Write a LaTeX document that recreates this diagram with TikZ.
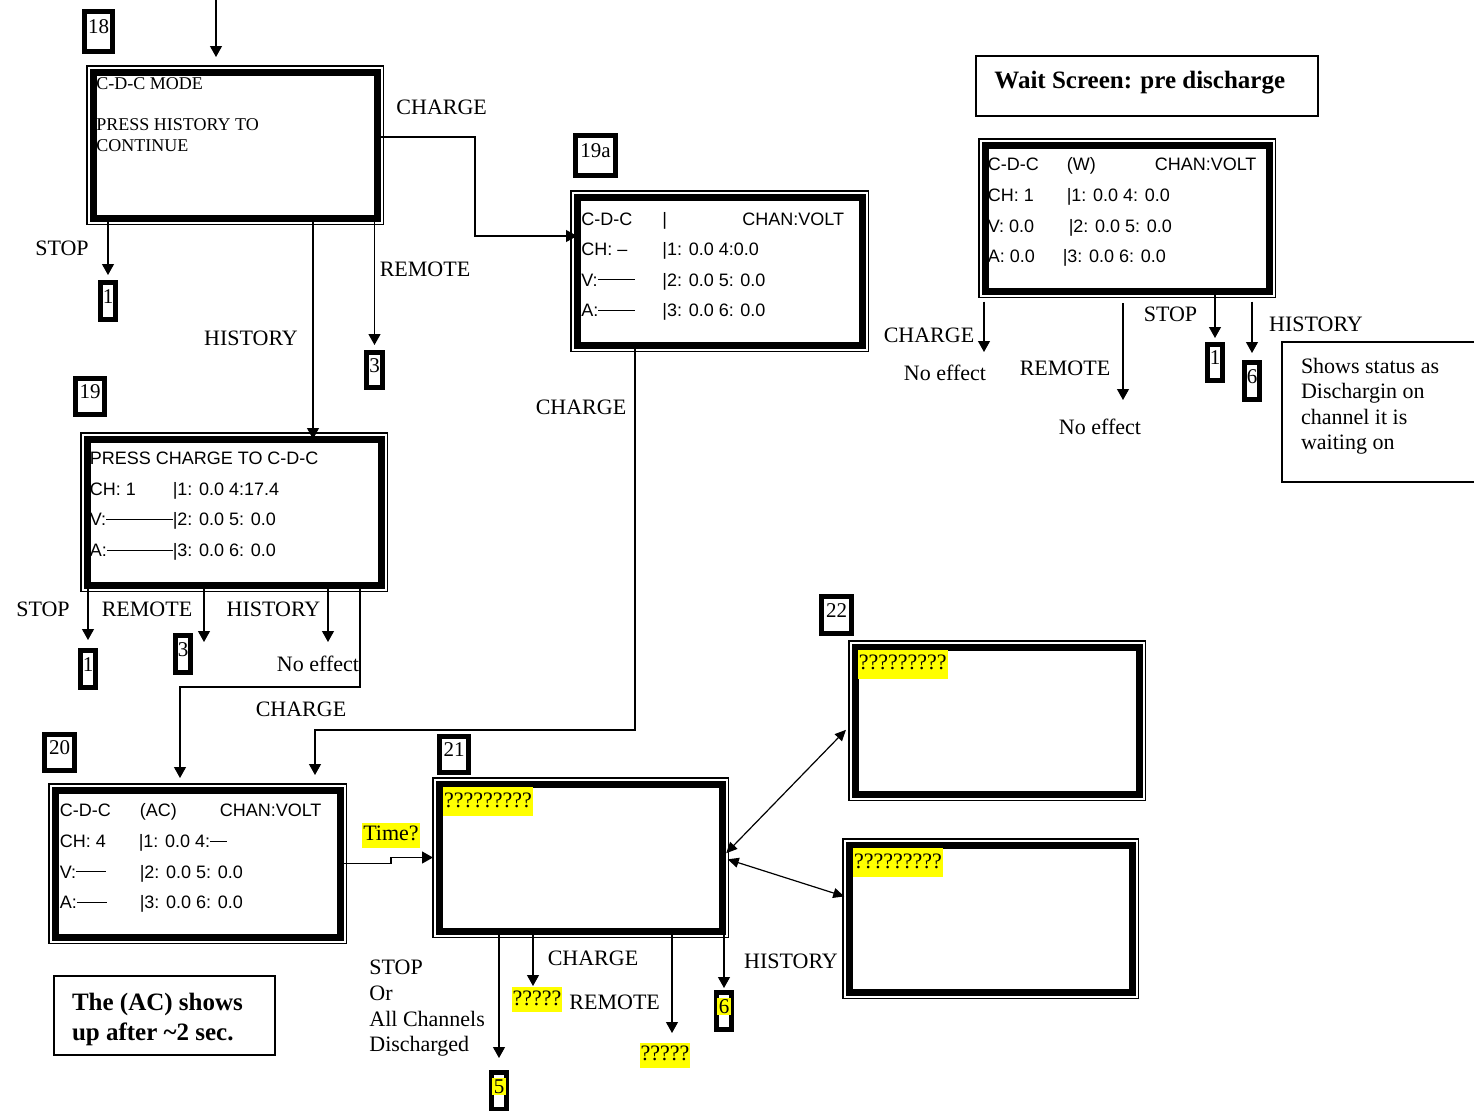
\documentclass[tikz,border=0pt]{standalone}
\usepackage{fontspec}
\setmainfont{Liberation Serif}
\newfontfamily\lcdfamily{Liberation Sans}
\usepackage{tikz}
\usetikzlibrary{arrows.meta, positioning, calc}
\definecolor{hlyellow}{RGB}{255,255,0}
\newdimen\pxu \pxu=0.5pt
\newcommand{\lblfont}{\fontsize{11}{12.8}\selectfont}
\newcommand{\tagfont}{\fontsize{10.5}{12}\selectfont}
\newcommand{\notefont}{\bfseries\fontsize{12.5}{15}\selectfont}
\newcommand{\lcdcol}[2]{\makebox[#1\pxu][l]{#2}}
\newcommand{\lcdrule}[1]{\rule[2.9pt]{#1\pxu}{0.5pt}}
\newcommand{\lcddash}{\leaders\hrule height 3.4pt depth -2.9pt\hfill}
\newcommand{\hlbox}[1]{{\setlength{\fboxsep}{0.8pt}\colorbox{hlyellow}{#1}}}
\tikzset{
  lcd/.style 2 args={rectangle,anchor=north west,inner sep=0pt,outer sep=0pt,
    minimum width=#1*\pxu,minimum height=#2*\pxu,
    preaction={draw=black,line width=6.8pt},
    preaction={draw=white,line width=5.5pt},
    fill=white,draw=black,line width=3.5pt},
  lcdtext/.style={inner sep=0pt,align=left,font=\lcdfamily\fontsize{9}{15.3}\selectfont},
  modetext/.style={inner sep=0pt,align=left,font=\fontsize{9}{10.7}\selectfont},
  tag/.style 2 args={rectangle,draw=black,line width=2.4pt,inner sep=0pt,outer sep=0pt,
    minimum width=#1*\pxu-2.4pt,minimum height=#2*\pxu-2.4pt,
    text height=7.3pt,text depth=5pt,font=\tagfont},
  plainbox/.style 2 args={rectangle,anchor=north west,draw=black,line width=0.7pt,
    inner sep=0pt,outer sep=0pt,minimum width=#1*\pxu,minimum height=#2*\pxu},
  lbl/.style={inner sep=0pt,font=\lblfont},
  blocktext/.style={inner sep=0pt,align=left,font=\lblfont},
  hl/.style={fill=hlyellow,inner xsep=0.5pt,inner ysep=1pt,text height=8pt,text depth=2.5pt,font=\lblfont},
  qbox/.style={hl,inner ysep=2pt},
  arr/.style={-{Triangle[length=5.5pt,width=6pt]},line width=0.6pt},
  totag/.style={shorten >=3.7pt},
  dblarr/.style={{Triangle[length=5.5pt,width=5pt]}-{Triangle[length=5.5pt,width=5pt]},line width=0.6pt}
}

\begin{document}
\begin{tikzpicture}[x=0.5pt,y=-0.5pt]
  \useasboundingbox (0,0) rectangle (1474,1110);
  \clip (0,0) rectangle (1474,1110);

  %% Screens
  \node[lcd={284}{146}] (s18) at (93,72) {};
  \node[lcd={285}{148}] (s19a) at (577,197) {};
  \node[lcd={294}{146}] (s19) at (87,439) {};
  \node[lcd={285}{147}] (s20) at (55,790) {};
  \node[lcd={283}{147}] (s21) at (439,784) {};
  \node[lcd={284}{147}] (s22a) at (855,647) {};
  \node[lcd={283}{147}] (s22b) at (849,845) {};
  \node[lcd={284}{146}] (sw) at (985,145) {};

  %% Screen contents
  \node[modetext,below right=2.7pt and 1.5pt of s18.north west] (s18t)
    {C-D-C MODE\\[9.5pt]PRESS HISTORY TO\\CONTINUE};
  \node[lcdtext,below right=7.3pt and 2pt of s19a.north west] (s19at)
    {\lcdcol{81}{C-D-C}\lcdcol{80}{|}CHAN:VOLT\\
     \lcdcol{81}{CH: –}|1: 0.0 4:0.0\\
     \lcdcol{81}{V:\lcdrule{37}}|2: 0.0 5: 0.0\\
     \lcdcol{81}{A:\lcdrule{37}}|3: 0.0 6: 0.0};
  \node[lcdtext,below right=6.3pt and 1.2pt of s19.north west] (s19t)
    {PRESS CHARGE TO C-D-C\\
     \lcdcol{83}{CH: 1}|1: 0.0 4:17.4\\
     \lcdcol{83}{V:\lcddash}|2: 0.0 5: 0.0\\
     \lcdcol{83}{A:\lcddash}|3: 0.0 6: 0.0};
  \node[lcdtext,below right=6.7pt and 2.2pt of s20.north west] (s20t)
    {\lcdcol{80}{C-D-C}\lcdcol{80}{(AC)}CHAN:VOLT\\
     \lcdcol{79}{CH: 4}|1: 0.0 4:\lcdrule{17}\\
     \lcdcol{80}{V:\lcdrule{30}}|2: 0.0 5: 0.0\\
     \lcdcol{80}{A:\lcdrule{30}}|3: 0.0 6: 0.0};
  \node[lcdtext,below right=6.2pt and 1.2pt of sw.north west] (swt)
    {\lcdcol{79}{C-D-C}\lcdcol{88}{(W)}CHAN:VOLT\\
     \lcdcol{79}{CH: 1}|1: 0.0 4: 0.0\\
     \lcdcol{81}{V: 0.0}|2: 0.0 5: 0.0\\
     \lcdcol{75}{A: 0.0}|3: 0.0 6: 0.0};
  \node[qbox,below right=1.3pt and 1.8pt of s21.north west] (q21) {?????????};
  \node[qbox,below right=1.1pt and 1.2pt of s22a.north west] (q22a) {?????????};
  \node[qbox,below right=1.3pt and 1.8pt of s22b.north west] (q22b) {?????????};

  %% Screen numbers and targets
  \node[tag={33}{45}] (t18) at (98.5,31.5) {18};
  \node[tag={20}{42}] (t18s) at (108,301) {1};
  \node[tag={21}{40}] (t18r) at (374.5,370) {3};
  \node[tag={45}{45}] (t19a) at (595.5,155.5) {19a};
  \node[tag={34}{41}] (t19) at (90,396.5) {19};
  \node[tag={20}{42}] (t19s) at (88,669) {1};
  \node[tag={20}{42}] (t19r) at (183,654) {3};
  \node[tag={35}{41}] (t20) at (59.5,752.5) {20};
  \node[tag={34}{41}] (t21) at (454,754.5) {21};
  \node[tag={35}{42}] (t22) at (836.5,615) {22};
  \node[tag={20}{42}] (t5) at (499,1091) {\hlbox{5}};
  \node[tag={20}{42}] (t6) at (724,1011) {\hlbox{6}};
  \node[tag={20}{41}] (tw1) at (1215,362.5) {1};
  \node[tag={20}{42}] (tw6) at (1252,381) {6};

  %% Notes
  \node[plainbox={342}{60}] (title) at (976,56) {};
  \node[inner sep=0pt,font=\notefont,below right=7.5pt and 9pt of title.north west] (titlet)
    {Wait Screen: pre discharge};
  \node[plainbox={221}{79}] (note) at (54,976) {};
  \node[inner sep=0pt,align=left,font=\notefont,below right=8.3pt and 8.8pt of note.north west] (notet)
    {The (AC) shows\\up after \textasciitilde2 sec.};
  \node[plainbox={210}{140}] (shows) at (1282,342) {};
  \node[blocktext,below right=7.7pt and 9.3pt of shows.north west] (showst)
    {Shows status as\\Dischargin on\\channel it is\\waiting on};

  %% Key labels
  \node[lbl] (l18ch) at (441.7,107) {CHARGE};
  \node[lbl] (l18st) at (62,248) {STOP};
  \node[lbl] (l18re) at (425,269) {REMOTE};
  \node[lbl] (l18hi) at (251,338) {HISTORY};
  \node[lbl] (l19ach) at (581,407) {CHARGE};
  \node[lbl] (l19st) at (43,609) {STOP};
  \node[lbl] (l19re) at (147,609) {REMOTE};
  \node[lbl] (l19hi) at (273.5,609) {HISTORY};
  \node[lbl] (l19no) at (318,664) {No effect};
  \node[lbl] (l19ch) at (301,709) {CHARGE};
  \node[hl] (time) at (391,835) {Time?};
  \node[blocktext,anchor=north west] (l21st) at (369,960) {STOP\\Or\\All Channels\\Discharged};
  \node[lbl] (l21ch) at (593,958) {CHARGE};
  \node[hl] (q21ch) at (537,999.5) {?????};
  \node[lbl] (l21re) at (614.7,1002) {REMOTE};
  \node[hl] (q21re) at (665,1055) {?????};
  \node[lbl] (l21hi) at (791,961) {HISTORY};
  \node[lbl] (lwch) at (929,335) {CHARGE};
  \node[lbl] (lwno) at (945,373) {No effect};
  \node[lbl] (lwre) at (1065,368) {REMOTE};
  \node[lbl] (lwnor) at (1100,427) {No effect};
  \node[lbl] (lwst) at (1170.5,314) {STOP};
  \node[lbl] (lwhi) at (1316,324) {HISTORY};

  %% Transitions from 18
  \coordinate (in18) at (216,0);
  \draw[arr,shorten >=7.5pt] (in18) -- (in18 |- s18.north);
  \draw[arr,totag] (t18s |- s18.south) -- (t18s.north);
  \draw[arr,totag] (t18r |- s18.south) -- (t18r.north);
  \coordinate (h18) at (313,0);
  \draw[arr] (h18 |- s18.south) -- (h18 |- s19.north);
  \coordinate (c18a) at (475,137);
  \coordinate (c18b) at (475,236);
  \draw[arr] (s18.east |- c18a) -- (c18a) -- (c18b) -- (s19a.west |- c18b);

  %% Transitions from 19a and 19
  \coordinate (c19aa) at (635,730);
  \coordinate (c19ab) at (315,730);
  \draw[arr,shorten >=7.5pt] (s19a.south -| c19aa) -- (c19aa) -- (c19ab) -- (s20.north -| c19ab);
  \draw[arr,totag,shorten >=5.2pt] (t19s |- s19.south) -- (t19s.north);
  \coordinate (r19) at (204,642);
  \draw[arr] (s19.south -| r19) -- (r19);
  \coordinate (hi19) at (328,642);
  \draw[arr] (s19.south -| hi19) -- (hi19);
  \coordinate (c19a) at (360,687);
  \coordinate (c19b) at (180,687);
  \draw[arr,shorten >=6pt] (s19.south -| c19a) -- (c19a) -- (c19b) -- (s20.north -| c19b);

  %% Transitions from 20 and 21
  \draw[arr,shorten >=3pt] (s20.east) -- (s20.east -| time) |- (s21.west);
  \draw[arr,totag,shorten >=7.2pt] (t5 |- s21.south) -- (t5.north);
  \coordinate (ch21) at (533,986);
  \draw[arr] (s21.south -| ch21) -- (ch21);
  \coordinate (re21) at (672,1033);
  \draw[arr] (s21.south -| re21) -- (re21);
  \draw[arr,totag,shorten >=2.2pt] (t6 |- s21.south) -- (t6.north);
  \draw[dblarr,shorten <=3pt,shorten >=6.5pt] (s21.east) -- (s22a.west);
  \draw[dblarr,shorten <=3pt,shorten >=2.5pt] (s21.east) -- ($(s22b.north west)!0.36!(s22b.south west)$);

  %% Wait screen keys
  \coordinate (wch) at (984,352);
  \draw[arr,shorten <=5.3pt] (sw.south -| wch) -- (wch);
  \coordinate (wre) at (1123,400);
  \draw[arr,shorten <=6pt] (sw.south -| wre) -- (wre);
  \draw[arr,totag,shorten >=3.2pt] (tw1 |- sw.south) -- (tw1.north);
  \draw[arr,totag,shorten <=5.3pt,shorten >=4.7pt] (tw6 |- sw.south) -- (tw6.north);
\end{tikzpicture}
\end{document}
